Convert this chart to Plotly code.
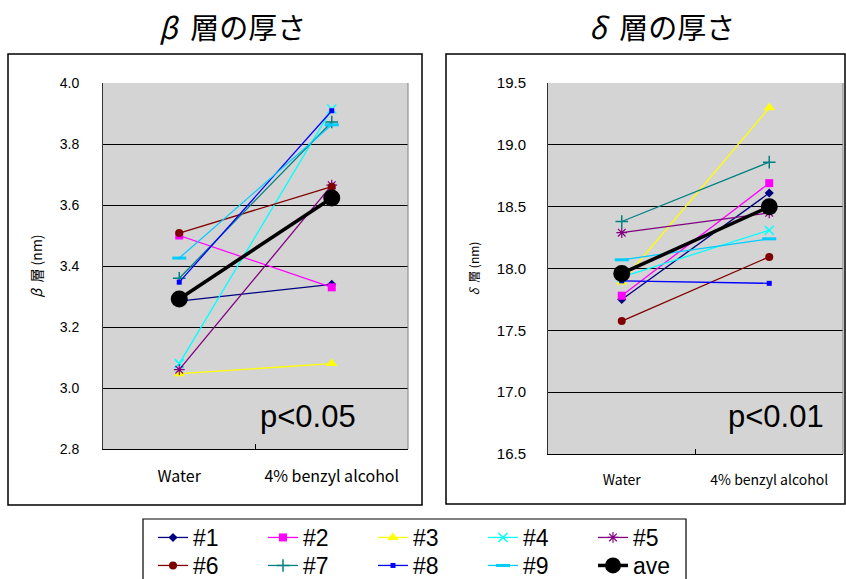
import plotly.graph_objects as go

W, H = 846, 579

categories = ["Water", "4% benzyl alcohol"]
series_names = ["#1", "#2", "#3", "#4", "#5", "#6", "#7", "#8", "#9"]

beta_water = [3.285, 3.500, 3.047, 3.080, 3.060, 3.508, 3.360, 3.347, 3.426]
beta_benzyl = [3.340, 3.330, 3.080, 3.915, 3.665, 3.660, 3.872, 3.909, 3.863]
beta_ave = [3.292, 3.623]

delta_water = [17.75, 17.78, 17.89, 17.93, 18.29, 17.575, 18.38, 17.90, 18.07]
delta_benzyl = [18.61, 18.69, 19.30, 18.31, 18.45, 18.094, 18.86, 17.88, 18.24]
delta_ave = [17.96, 18.50]

beta_ticks = [2.8, 3.0, 3.2, 3.4, 3.6, 3.8, 4.0]
delta_ticks = [16.5, 17.0, 17.5, 18.0, 18.5, 19.0, 19.5]

colors = ["#000080", "#FF00FF", "#FFFF00", "#00FFFF", "#800080",
          "#800000", "#008080", "#0000FF", "#00CCFF"]
symbols = ["diamond", "square", "triangle-up", "x-thin-open", "asterisk-open",
           "circle", "cross-thin-open", "square", "line-ew-open"]
sizes = [7, 8, 10, 9, 9, 8, 9, 5, 10]
mlw = [0, 0, 0, 1.5, 1.2, 0, 1.5, 0, 3]

fig = go.Figure()


def px_x(p):
    return p / W


def px_y(p):
    return 1 - p / H


for panel, (wv, bv, av, xa, ya) in enumerate([
    (beta_water, beta_benzyl, beta_ave, "x", "y"),
    (delta_water, delta_benzyl, delta_ave, "x2", "y2"),
]):
    for i, name in enumerate(series_names):
        fig.add_trace(go.Scatter(
            x=categories, y=[wv[i], bv[i]], name=name, mode="lines+markers",
            line=dict(color=colors[i], width=1.3),
            marker=dict(symbol=symbols[i], size=sizes[i], color=colors[i],
                        line=dict(color=colors[i], width=mlw[i])),
            xaxis=xa, yaxis=ya, legendgroup=name, showlegend=(panel == 0),
            legend="legend" if i < 5 else "legend2",
        ))
    fig.add_trace(go.Scatter(
        x=categories, y=av, name="ave", mode="lines+markers",
        line=dict(color="black", width=3.5),
        marker=dict(symbol="circle", size=17, color="black"),
        xaxis=xa, yaxis=ya, legendgroup="ave", showlegend=(panel == 0),
        legend="legend2",
    ))

axis_common_x = dict(
    type="category", range=[-0.5, 1.5], showgrid=False, showline=True,
    linecolor="black", linewidth=1.2, ticks="inside", ticklen=5,
    tickcolor="black", tickson="boundaries", zeroline=False,
)
axis_common_y = dict(
    showgrid=True, gridcolor="black", gridwidth=1, showline=True,
    linecolor="#333333", linewidth=1, ticks="", zeroline=False,
    tickformat=".1f", tickfont=dict(family="Liberation Sans", color="black"),
)

legend_common = dict(
    orientation="h", xanchor="left", yanchor="top",
    bgcolor="rgba(0,0,0,0)", borderwidth=0,
    font=dict(family="Liberation Sans", size=23, color="black"),
    entrywidth=65, entrywidthmode="pixels", itemwidth=30,
)

fig.update_layout(
    width=W, height=H,
    margin=dict(l=0, r=0, t=0, b=0, autoexpand=False),
    paper_bgcolor="white",
    plot_bgcolor="#d4d4d4",
    xaxis=dict(**axis_common_x, domain=[px_x(103), px_x(408)], anchor="y",
               tickfont=dict(family="Noto Sans CJK JP", size=16, color="black"),
               ticklabelstandoff=13),
    yaxis=dict(**axis_common_y, domain=[px_y(449), px_y(83)], anchor="x",
               range=[2.8, 4.0], tickvals=beta_ticks, ticklabelstandoff=20,
               tickfont_size=14,
               title=dict(text="<i>β</i>\u00a0\u00a0層 (nm)", standoff=13,
                          font=dict(family="Noto Sans CJK JP", size=14, color="black"))),
    xaxis2=dict(**axis_common_x, domain=[px_x(548), px_x(843)], anchor="y2",
                tickfont=dict(family="Noto Sans CJK JP", size=14, color="black"),
                ticklabelstandoff=13),
    yaxis2=dict(**axis_common_y, domain=[px_y(454), px_y(83)], anchor="x2",
                range=[16.5, 19.5], tickvals=delta_ticks, ticklabelstandoff=18,
                tickfont_size=15,
                title=dict(text="<i>δ</i>\u00a0\u00a0層 (nm)", standoff=14,
                           font=dict(family="Noto Sans CJK JP", size=12, color="black"))),
    legend=dict(**legend_common, x=px_x(153), y=px_y(516)),
    legend2=dict(**legend_common, x=px_x(153), y=px_y(544)),
    shapes=[
        dict(type="rect", xref="paper", yref="paper", x0=px_x(8), x1=px_x(422),
             y0=px_y(505), y1=px_y(54), line=dict(color="black", width=1.5)),
        dict(type="rect", xref="paper", yref="paper", x0=px_x(446), x1=px_x(845),
             y0=px_y(504), y1=px_y(54), line=dict(color="black", width=1.5)),
        dict(type="rect", xref="paper", yref="paper", x0=px_x(143), x1=px_x(686),
             y0=-0.2, y1=px_y(519), line=dict(color="black", width=1.2)),
        dict(type="line", xref="x domain", yref="y domain", x0=1, x1=1, y0=0, y1=1,
             line=dict(color="#909090", width=1.2)),
        dict(type="line", xref="x2 domain", yref="y2 domain", x0=1, x1=1, y0=0, y1=1,
             line=dict(color="#909090", width=1.2)),
    ],
    annotations=[
        dict(text="<i>β</i>\u00a0\u00a0層の厚さ", xref="paper", yref="paper", x=px_x(232), y=px_y(26),
             xanchor="center", yanchor="middle", showarrow=False,
             font=dict(family="Noto Sans CJK JP", size=29, color="black")),
        dict(text="<i>δ</i>\u00a0\u00a0層の厚さ", xref="paper", yref="paper", x=px_x(662), y=px_y(26),
             xanchor="center", yanchor="middle", showarrow=False,
             font=dict(family="Noto Sans CJK JP", size=29, color="black")),
        dict(text="p<0.05", xref="paper", yref="paper", x=px_x(308), y=px_y(416),
             xanchor="center", yanchor="middle", showarrow=False,
             font=dict(family="Liberation Sans", size=31, color="black")),
        dict(text="p<0.01", xref="paper", yref="paper", x=px_x(776), y=px_y(416),
             xanchor="center", yanchor="middle", showarrow=False,
             font=dict(family="Liberation Sans", size=31, color="black")),
    ],
)

fig.write_html(
    "out.html",
    config={"displayModeBar": False},
    post_script="document.body.style.margin='0px';document.body.style.overflow='hidden';",
)
